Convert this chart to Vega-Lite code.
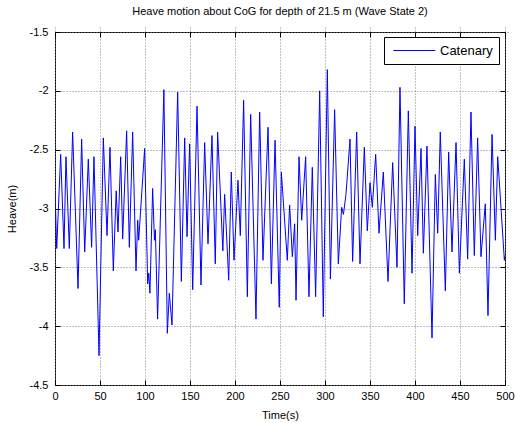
{
  "$schema": "https://vega.github.io/schema/vega-lite/v6.json",
  "autosize": {"type": "none"},
  "width": 450,
  "height": 353,
  "padding": {"left": 55, "top": 32, "right": 12, "bottom": 38},
  "background": "white",
  "config": {
    "locale": {"number": {"decimal": ".", "thousands": ",", "grouping": [3], "currency": ["$", ""], "minus": "-"}},
    "view": {"stroke": "black", "strokeWidth": 1},
    "font": "Liberation Sans",
    "axis": {
      "domain": false,
      "tickColor": "black",
      "labelColor": "black",
      "titleColor": "black",
      "labelFont": "Liberation Sans",
      "titleFont": "Liberation Sans",
      "labelFontSize": 11,
      "titleFontSize": 11,
      "titleFontWeight": "normal",
      "labelFlush": false,
      "gridColor": "#808080",
      "gridDash": [1, 2],
      "gridOpacity": 1,
      "tickSize": 5,
      "offset": -5
    }
  },
  "title": {
    "text": "Heave motion about CoG for depth of 21.5 m (Wave State 2)",
    "fontSize": 11,
    "fontWeight": "normal",
    "font": "Liberation Sans",
    "color": "black",
    "anchor": "middle",
    "offset": 9
  },
  "data": {
    "values": [
      {"t": 0, "heave": -2.85}, {"t": 1.9, "heave": -3.34}, {"t": 6.3, "heave": -2.54}, {"t": 10, "heave": -3.34},
      {"t": 12.2, "heave": -2.56}, {"t": 15.9, "heave": -3.34}, {"t": 19.6, "heave": -2.35}, {"t": 25.6, "heave": -3.68},
      {"t": 29.6, "heave": -2.41}, {"t": 33, "heave": -3.37}, {"t": 37, "heave": -2.58}, {"t": 40.7, "heave": -3.33},
      {"t": 43.3, "heave": -2.56}, {"t": 48.9, "heave": -4.25}, {"t": 53.7, "heave": -2.4}, {"t": 57.8, "heave": -3.23},
      {"t": 61.1, "heave": -2.48}, {"t": 64.8, "heave": -3.53}, {"t": 68, "heave": -2.85}, {"t": 70, "heave": -3.2},
      {"t": 73, "heave": -2.56}, {"t": 75.2, "heave": -3.26}, {"t": 79.6, "heave": -2.34}, {"t": 82.6, "heave": -3.33},
      {"t": 86.3, "heave": -2.35}, {"t": 90, "heave": -3.53}, {"t": 91.9, "heave": -3.1}, {"t": 93, "heave": -3.27},
      {"t": 99.6, "heave": -2.49}, {"t": 103, "heave": -3.64}, {"t": 104.2, "heave": -3.55}, {"t": 105.5, "heave": -3.72},
      {"t": 108.5, "heave": -2.83}, {"t": 110.5, "heave": -3.27}, {"t": 111.5, "heave": -3.18}, {"t": 114, "heave": -3.94},
      {"t": 121, "heave": -1.99}, {"t": 124.8, "heave": -4.06}, {"t": 127, "heave": -3.72}, {"t": 130, "heave": -3.99},
      {"t": 136.3, "heave": -2.01}, {"t": 140.4, "heave": -3.62}, {"t": 144.1, "heave": -2.4}, {"t": 146.7, "heave": -3.24},
      {"t": 149.6, "heave": -2.45}, {"t": 153, "heave": -3.69}, {"t": 157.8, "heave": -2.13}, {"t": 162.2, "heave": -3.65},
      {"t": 166.3, "heave": -2.44}, {"t": 170, "heave": -3.3}, {"t": 174.4, "heave": -2.38}, {"t": 178.1, "heave": -3.47},
      {"t": 180.7, "heave": -2.35}, {"t": 186.5, "heave": -3.36}, {"t": 188.5, "heave": -2.88}, {"t": 193, "heave": -3.61},
      {"t": 195.9, "heave": -2.69}, {"t": 198.9, "heave": -3.44}, {"t": 203.3, "heave": -2.76}, {"t": 205.9, "heave": -3.23},
      {"t": 209.6, "heave": -2.08}, {"t": 213.7, "heave": -3.75}, {"t": 217.4, "heave": -2.2}, {"t": 223.3, "heave": -3.94},
      {"t": 227.4, "heave": -2.18}, {"t": 231.1, "heave": -3.44}, {"t": 236.7, "heave": -2.31}, {"t": 240.4, "heave": -3.64},
      {"t": 244.5, "heave": -2.42}, {"t": 249.2, "heave": -3.84}, {"t": 251.5, "heave": -2.69}, {"t": 258.1, "heave": -3.44},
      {"t": 260.7, "heave": -2.97}, {"t": 263.7, "heave": -3.41}, {"t": 266.3, "heave": -3.13}, {"t": 267.8, "heave": -3.78},
      {"t": 271.1, "heave": -2.56}, {"t": 274.1, "heave": -3.1}, {"t": 278.5, "heave": -2.56}, {"t": 282.2, "heave": -3.75},
      {"t": 285.9, "heave": -2.65}, {"t": 289.6, "heave": -3.75}, {"t": 294.1, "heave": -2.0}, {"t": 298.1, "heave": -3.92},
      {"t": 302.6, "heave": -1.82}, {"t": 306, "heave": -3.6}, {"t": 310.7, "heave": -2.16}, {"t": 314.8, "heave": -3.47},
      {"t": 318.5, "heave": -2.99}, {"t": 320.5, "heave": -3.05}, {"t": 323.3, "heave": -2.88}, {"t": 327.8, "heave": -2.41},
      {"t": 330.7, "heave": -3.45}, {"t": 335.2, "heave": -2.35}, {"t": 338.9, "heave": -3.47}, {"t": 343.7, "heave": -2.48},
      {"t": 347, "heave": -3.19}, {"t": 350, "heave": -2.78}, {"t": 352.6, "heave": -2.99}, {"t": 356.3, "heave": -2.54},
      {"t": 360, "heave": -3.21}, {"t": 364.8, "heave": -2.69}, {"t": 370, "heave": -3.62}, {"t": 375.2, "heave": -2.61},
      {"t": 380, "heave": -3.5}, {"t": 383.3, "heave": -1.97}, {"t": 388.1, "heave": -3.81}, {"t": 392.6, "heave": -2.17},
      {"t": 396.7, "heave": -3.55}, {"t": 400, "heave": -2.3}, {"t": 403, "heave": -3.23}, {"t": 406.7, "heave": -2.49},
      {"t": 409.3, "heave": -3.38}, {"t": 413.3, "heave": -2.47}, {"t": 418.9, "heave": -4.1}, {"t": 422.6, "heave": -2.71},
      {"t": 425.2, "heave": -3.21}, {"t": 428.1, "heave": -2.35}, {"t": 433.7, "heave": -3.7}, {"t": 437.4, "heave": -2.52},
      {"t": 441.1, "heave": -3.37}, {"t": 445.6, "heave": -2.44}, {"t": 449.3, "heave": -3.55}, {"t": 454.8, "heave": -2.58},
      {"t": 458.5, "heave": -3.43}, {"t": 462.2, "heave": -2.18}, {"t": 465.9, "heave": -3.4}, {"t": 469.6, "heave": -2.4},
      {"t": 473.3, "heave": -3.41}, {"t": 478.1, "heave": -2.96}, {"t": 481.1, "heave": -3.91}, {"t": 485.6, "heave": -2.37},
      {"t": 489.3, "heave": -3.27}, {"t": 491.9, "heave": -2.56}, {"t": 499.3, "heave": -3.44}, {"t": 500, "heave": -3.4}
    ]
  },
  "layer": [
    {
      "mark": {"type": "line", "strokeWidth": 1, "clip": true},
      "encoding": {
        "x": {
          "field": "t", "type": "quantitative",
          "scale": {"domain": [0, 500], "nice": false, "zero": false},
          "axis": {
            "orient": "bottom",
            "title": "Time(s)", "values": [0, 50, 100, 150, 200, 250, 300, 350, 400, 450, 500],
            "format": "d", "grid": true, "labelPadding": 5, "titlePadding": 8
          }
        },
        "y": {
          "field": "heave", "type": "quantitative",
          "scale": {"domain": [-4.5, -1.5], "nice": false, "zero": false},
          "axis": {
            "orient": "left",
            "title": "Heave(m)", "values": [-4.5, -4, -3.5, -3, -2.5, -2, -1.5],
            "format": "~g", "grid": true, "labelPadding": 7, "titlePadding": 12
          }
        },
        "color": {
          "datum": "Catenary",
          "scale": {"range": ["#0000ff"]},
          "legend": {
            "title": null,
            "orient": "none",
            "legendX": 329,
            "legendY": 5,
            "strokeColor": "black",
            "fillColor": "white",
            "padding": 6,
            "symbolType": "M-0.6,0H5.4",
            "symbolSize": 196,
            "symbolStrokeWidth": 1,
            "symbolStrokeColor": "#0000ff",
            "symbolFillColor": "transparent",
            "labelFontSize": 13,
            "labelFont": "Liberation Sans",
            "labelColor": "black",
            "labelOffset": 35,
            "cornerRadius": 0
          }
        }
      }
    },
    {
      "mark": {"type": "point", "opacity": 0},
      "encoding": {
        "x": {
          "field": "t", "type": "quantitative",
          "axis": {"orient": "top", "labels": false, "title": null, "grid": false,
                   "values": [0, 50, 100, 150, 200, 250, 300, 350, 400, 450, 500]}
        },
        "y": {
          "field": "heave", "type": "quantitative",
          "axis": {"orient": "right", "labels": false, "title": null, "grid": false,
                   "values": [-4.5, -4, -3.5, -3, -2.5, -2, -1.5]}
        }
      }
    }
  ]
}
